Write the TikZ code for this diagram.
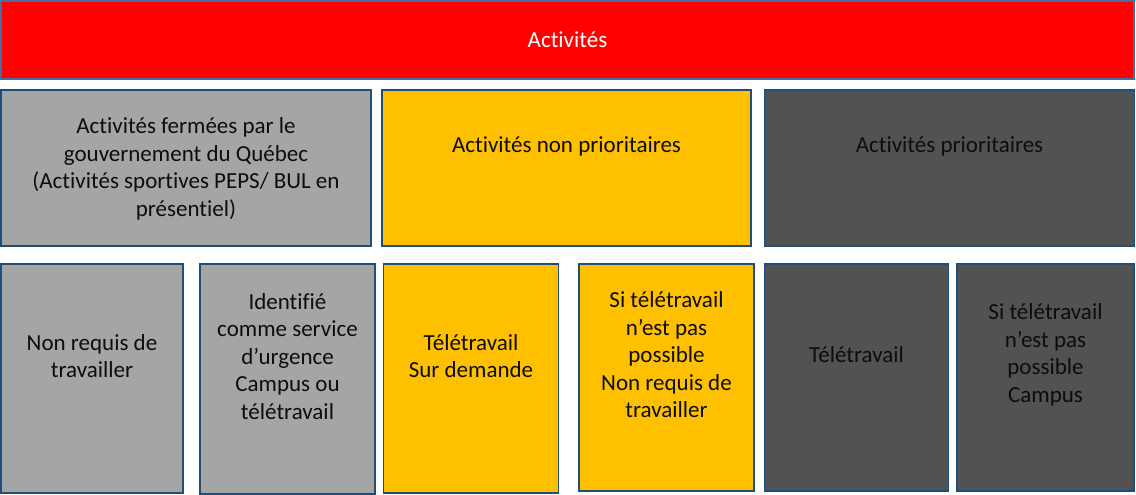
\documentclass[tikz,border=0pt]{standalone}
\usepackage{fontspec}
\setmainfont{Carlito}[Ligatures=NoCommon]
\definecolor{redfill}{HTML}{FF0000}
\definecolor{grayfill}{HTML}{A5A5A5}
\definecolor{yellowfill}{HTML}{FFC000}
\definecolor{darkfill}{HTML}{525252}
\definecolor{edgeblue}{HTML}{1F4E79}
\definecolor{topedge}{HTML}{41719C}
\definecolor{txtcol}{HTML}{0D0D0D}
\begin{document}
\begin{tikzpicture}[x=1pt,y=-1pt,
  boxbase/.style={draw=edgeblue, line width=1.6pt, rectangle, inner sep=0pt},
  topbox/.style={boxbase, draw=topedge, fill=redfill},
  graybox/.style={boxbase, fill=grayfill},
  yellowbox/.style={boxbase, fill=yellowfill},
  darkbox/.style={boxbase, fill=darkfill},
  txt/.style={align=center, text=txtcol, font=\fontsize{23}{27.5}\selectfont, inner sep=0pt},
]
\useasboundingbox (0,0) rectangle (1136,495);
% top
\node[topbox, minimum width=1133, minimum height=78] (top) at (567.5,40) {};
\node[txt, text=white] (ttop) at (567.5,40) {Activités};
% row 2
\node[graybox, minimum width=370, minimum height=156] (r1) at (186,168) {};
\node[txt] (tr1) at (186,169) {Activités fermées par le\\gouvernement du Québec\\(Activités sportives PEPS/ BUL en\\présentiel)};
\node[yellowbox, minimum width=369, minimum height=156] (r2) at (566.5,168) {};
\node[txt] (tr2) at (566.5,146) {Activités non prioritaires};
\node[darkbox, minimum width=370, minimum height=156] (r3) at (949.5,168) {};
\node[txt] (tr3) at (949.5,146) {Activités prioritaires};
% row 3
\node[graybox, minimum width=182, minimum height=229] (b1) at (92,378.5) {};
\node[txt] (tb1) at (92,356) {Non requis de\\travailler};
\node[graybox, minimum width=175, minimum height=230] (b2) at (287.5,379) {};
\node[txt] (tb2) at (287.5,356.5) {Identifié\\comme service\\d’urgence\\Campus ou\\télétravail};
\node[yellowbox, minimum width=175, minimum height=229] (b3) at (471,378.5) {};
\node[txt] (tb3) at (471,356) {Télétravail\\Sur demande};
\node[yellowbox, minimum width=175, minimum height=227] (b4) at (666.5,377.5) {};
\node[txt] (tb4) at (666.5,355) {Si télétravail\\n’est pas\\possible\\Non requis de\\travailler};
\node[darkbox, minimum width=184, minimum height=227] (b5) at (856.5,377.5) {};
\node[txt] (tb5) at (856.5,355) {Télétravail};
\node[darkbox, minimum width=177, minimum height=227] (b6) at (1045.5,377.5) {};
\node[txt] (tb6) at (1045.5,355) {Si télétravail\\n’est pas\\possible\\Campus};
\end{tikzpicture}
\end{document}
